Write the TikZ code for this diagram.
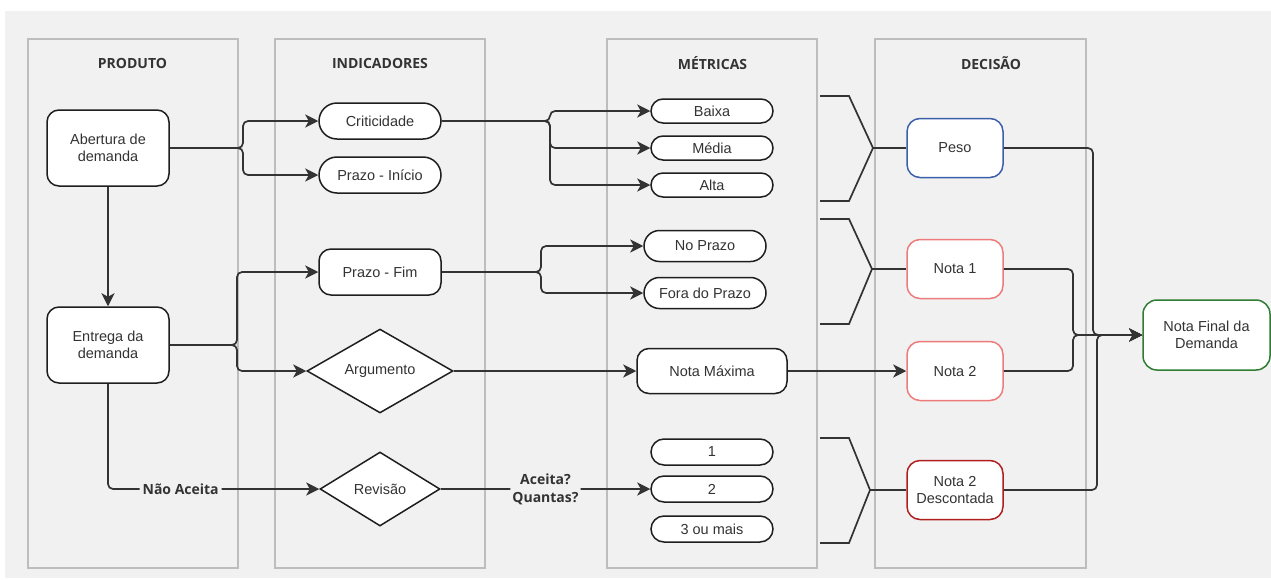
\documentclass[tikz,border=0pt]{standalone}
\usepackage{fontspec}
\setmainfont{Liberation Sans}
\newfontfamily\titlefont{Open Sans}
\usetikzlibrary{shapes.geometric,arrows.meta}
\definecolor{bggray}{HTML}{F1F1F1}
\definecolor{lanegray}{HTML}{BDBDBD}
\definecolor{linec}{HTML}{333333}
\definecolor{boxdark}{HTML}{1E1E1E}
\definecolor{textc}{HTML}{333333}
\definecolor{pesoblue}{HTML}{3B5FA8}
\definecolor{notared}{HTML}{EE7B7B}
\definecolor{descred}{HTML}{B01E1E}
\definecolor{finalgreen}{HTML}{2E7D32}
\begin{document}
\begin{tikzpicture}[x=1pt,y=-1pt,
  lane/.style={draw=lanegray, line width=1.5pt, fill=bggray, inner sep=0pt},
  lanetitle/.style={font=\titlefont\bfseries\fontsize{14}{16}\selectfont, text=textc},
  box/.style={draw=boxdark, line width=1.5pt, fill=white, rounded corners=12pt, inner sep=0pt,
    font=\fontsize{14.5}{16.5}\selectfont, align=center, text=textc},
  pillbig/.style={box, minimum width=122pt, minimum height=36pt, rounded corners=18pt},
  pillsmall/.style={box, minimum width=122pt, minimum height=24pt, rounded corners=12pt},
  pillmid/.style={box, minimum width=122pt, minimum height=31pt, rounded corners=15.5pt},
  dec/.style={box, minimum width=96pt, minimum height=59pt, rounded corners=13pt},
  dia/.style={diamond, draw=boxdark, line width=1.5pt, fill=white, inner sep=0pt,
    font=\fontsize{14.5}{16.5}\selectfont, text=textc},
  conn/.style={draw=linec, line width=1.7pt, rounded corners=5pt},
  arr/.style={conn, -{Stealth[length=13pt,width=13pt,inset=3.5pt]}},
  brk/.style={draw=linec, line width=1.7pt},
  lbl/.style={font=\titlefont\bfseries\fontsize{14}{16}\selectfont, text=textc, fill=bggray, inner sep=3pt, align=center}
]
\useasboundingbox (0,0) rectangle (1271,579);
\fill[white] (0,0) rectangle (1271,579);
\fill[bggray] (5,11) rectangle (1271,578);

% lanes
\node[lane, minimum width=210pt, minimum height=529pt] (laneP) at (133,303.5) {};
\node[lane, minimum width=210pt, minimum height=529pt] (laneI) at (380,303.5) {};
\node[lane, minimum width=210pt, minimum height=529pt] (laneM) at (712,303.5) {};
\node[lane, minimum width=211pt, minimum height=529pt] (laneD) at (980.5,303.5) {};
\node[lanetitle] (tP) at (132.5,63) {PRODUTO};
\node[lanetitle] (tI) at (380,63) {INDICADORES};
\node[lanetitle] (tM) at (712.5,63) {MÉTRICAS};
\node[lanetitle] (tD) at (991,63) {DECISÃO};

% produto
\node[box, minimum width=122pt, minimum height=76pt] (ab) at (108,148) {Abertura de\\demanda};
\node[box, minimum width=122pt, minimum height=76pt] (ent) at (108,345) {Entrega da\\demanda};

% indicadores
\node[pillbig] (crit) at (380,121) {Criticidade};
\node[pillbig] (pini) at (380,175) {Prazo - Início};
\node[box, minimum width=122pt, minimum height=46pt] (pfim) at (380,272) {Prazo - Fim};
\node[dia, minimum width=146pt, minimum height=81pt] (arg) at (380,371) {Argumento};
\node[dia, minimum width=120pt, minimum height=74pt] (rev) at (380,489) {Revisão};

% metricas
\node[pillsmall] (baixa) at (712,111) {Baixa};
\node[pillsmall] (media) at (712,148) {Média};
\node[pillsmall] (alta) at (712,185) {Alta};
\node[pillmid] (nop) at (705,246) {No Prazo};
\node[pillmid] (fora) at (705,293) {Fora do Prazo};
\node[box, minimum width=150pt, minimum height=45pt] (nmax) at (712,371) {Nota Máxima};
\node[pillsmall, minimum height=26pt, rounded corners=13pt] (m1) at (712,452) {1};
\node[pillsmall, minimum height=26pt, rounded corners=13pt] (m2) at (712,489) {2};
\node[pillsmall, minimum height=26pt, rounded corners=13pt] (m3) at (712,529) {3 ou mais};

% decisao
\node[dec, draw=pesoblue] (peso) at (955,148) {Peso};
\node[dec, draw=notared] (n1) at (955,269) {Nota 1};
\node[dec, draw=notared] (n2) at (955,371) {Nota 2};
\node[dec, draw=descred] (n2d) at (955,490) {Nota 2\\Descontada};
\node[box, draw=finalgreen, minimum width=127pt, minimum height=70pt, rounded corners=14pt] (nf) at (1206.5,335) {Nota Final da\\Demanda};

% junctions
\coordinate (j1) at (243,148);
\coordinate (j2) at (550,121);
\coordinate (j3) at (541,272);
\coordinate (j4) at (237,345);

\draw[arr] (ab.east) -- (j1) |- (crit.west);
\draw[arr] (ab.east) -- (j1) |- (pini.west);
\draw[arr] (crit.east) -- (j2) |- (baixa.west);
\draw[arr] (crit.east) -- (j2) |- (media.west);
\draw[arr] (crit.east) -- (j2) |- (alta.west);
\draw[arr] (pfim.east) -- (j3) |- (nop.west);
\draw[arr] (pfim.east) -- (j3) |- (fora.west);
\draw[arr] (ent.east) -- (j4) |- (pfim.west);
\draw[arr] (ent.east) -- (j4) |- (arg.west);
\draw[arr] (ab.south) -- (ent.north);
\draw[arr] (ent.south) |- node[lbl, pos=0.672] {Não Aceita} (rev.west);
\draw[arr] (arg.east) -- (nmax.west);
\draw[arr] (rev.east) -- node[lbl, midway, inner sep=2pt, font=\titlefont\bfseries\fontsize{14}{18}\selectfont] {Aceita?\\Quantas?} (m2.west);
\draw[arr] (nmax.east) -- (n2.west);

% brackets
\coordinate (b1) at (873,148);
\coordinate (b2) at (872,269);
\coordinate (b3) at (870,490);
\draw[brk] (820,96) -- (849,96) -- (b1) -- (849,201) -- (820,201);
\draw[brk] (820,219) -- (849,219) -- (b2) -- (849,324) -- (820,324);
\draw[brk] (820,438) -- (849,438) -- (b3) -- (849,543) -- (820,543);
\draw[brk] (b1) -- (peso.west);
\draw[brk] (b2) -- (n1.west);
\draw[brk] (b3) -- (n2d.west);

% to final
\coordinate (f1) at (1093,335);
\coordinate (f2) at (1073,335);
\coordinate (f3) at (1097,335);
\draw[arr] (peso.east) -| (f1) -- (nf.west);
\draw[arr] (n1.east) -| (f2) -- (nf.west);
\draw[arr] (n2.east) -| (f2) -- (nf.west);
\draw[arr] (n2d.east) -| (f3) -- (nf.west);
\end{tikzpicture}
\end{document}
